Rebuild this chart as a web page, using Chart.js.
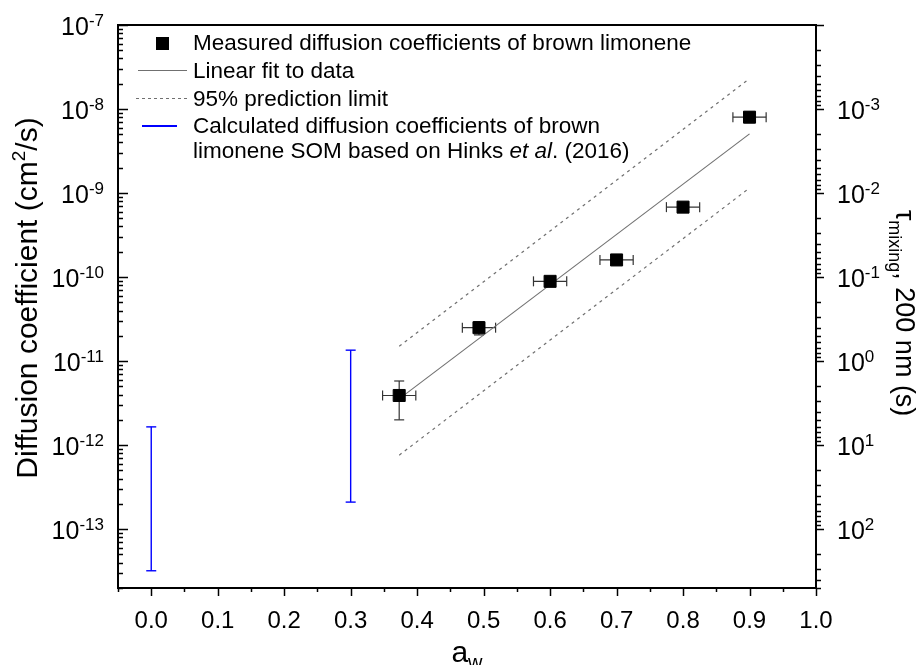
<!DOCTYPE html>
<html lang="en">
<head>
<meta charset="UTF-8">
<title>Diffusion coefficients of brown limonene SOM</title>
<script src="https://cdn.jsdelivr.net/npm/chart.js"></script>
<style>
  body { margin: 0; background: #fff; }
  #wrap { width: 920px; height: 665px; }
</style>
</head>
<body>
<div id="wrap"><canvas id="diffChart" width="920" height="665"></canvas></div>
<script>
// Measured diffusion coefficients (brown limonene)
const awMeasured = [0.373, 0.493, 0.60, 0.70, 0.80, 0.90];
const dMeasured = [3.9e-12, 2.5e-11, 8.9e-11, 1.6e-10, 6.8e-10, 8.0e-9];
const awErr = [0.025, 0.025, 0.025, 0.025, 0.025, 0.025];
const dLow = [2.0e-12, 2.05e-11, 8.2e-11, 1.5e-10, 6.4e-10, 6.9e-9];
const dHigh = [5.8e-12, 2.95e-11, 9.6e-11, 1.7e-10, 7.2e-10, 9.2e-9];

// Linear fit and 95% prediction limits (end points)
const fitAw = [0.373, 0.90];
const fitD = [3.55e-12, 5.06e-9];
const upperD = [1.5e-11, 2.3e-8];
const lowerD = [7.6e-13, 1.15e-9];

// Hinks et al. (2016) calculated ranges
const hinksAw = [0.0, 0.3];
const hinksLow = [3.2e-14, 2.1e-13];
const hinksHigh = [1.65e-12, 1.35e-11];

// Axis ticks
const xTickLabels = ['0.0', '0.1', '0.2', '0.3', '0.4', '0.5', '0.6', '0.7', '0.8', '0.9', '1.0'];
const dExponents = [-7, -8, -9, -10, -11, -12, -13];
const tauExponents = [-3, -2, -1, 0, 1, 2];

const FONT = "'Liberation Sans', Arial, sans-serif";
const dMin = Math.pow(10, -13.7), dMax = 1e-7;
// tau(200 nm) = 1e-11 / D
const tauMin = 1e-11 / dMax, tauMax = 1e-11 / dMin;

function pts(xs, ys) {
    return xs.map((x, i) => ({ x: x, y: ys[i] }));
}

function logTicks(min, max) {
    const out = [];
    for (let e = Math.floor(Math.log10(min)); e <= Math.ceil(Math.log10(max)); e++) {
        for (let m = 1; m <= 9; m++) {
            const v = m * Math.pow(10, e);
            if (v >= min * 0.999 && v <= max * 1.001) out.push({ v: v, major: m === 1 });
        }
    }
    return out;
}

function line(ctx, x1, y1, x2, y2) {
    ctx.beginPath();
    ctx.moveTo(x1, y1);
    ctx.lineTo(x2, y2);
    ctx.stroke();
}

// "10" with a superscript exponent
function powLabel(ctx, x, y, exp, align) {
    ctx.font = '25px ' + FONT;
    const w1 = ctx.measureText('10').width;
    ctx.font = '17px ' + FONT;
    const w2 = ctx.measureText(String(exp)).width;
    const x0 = align === 'right' ? x - w1 - w2 : x;
    ctx.textAlign = 'left';
    ctx.textBaseline = 'alphabetic';
    ctx.font = '25px ' + FONT;
    ctx.fillText('10', x0, y + 10);
    ctx.font = '17px ' + FONT;
    ctx.fillText(String(exp), x0 + w1, y + 1);
}

// draws runs of [text, font, dy] one after the other, centred on 0
function runs(ctx, parts) {
    let total = 0;
    parts.forEach(p => { ctx.font = p[1]; total += ctx.measureText(p[0]).width; });
    let x = -total / 2;
    ctx.textAlign = 'left';
    ctx.textBaseline = 'alphabetic';
    parts.forEach(p => {
        ctx.font = p[1];
        ctx.fillText(p[0], x, p[2]);
        x += ctx.measureText(p[0]).width;
    });
}

const errorBars = {
    id: 'errorBars',
    beforeDatasetsDraw(chart) {
        const ctx = chart.ctx, xs = chart.scales.x, ys = chart.scales.y;
        ctx.save();
        // measured: x and y error bars
        ctx.strokeStyle = '#333';
        ctx.lineWidth = 1.2;
        awMeasured.forEach((aw, i) => {
            const px = xs.getPixelForValue(aw), py = ys.getPixelForValue(dMeasured[i]);
            const xl = xs.getPixelForValue(aw - awErr[i]), xr = xs.getPixelForValue(aw + awErr[i]);
            const yl = ys.getPixelForValue(dLow[i]), yh = ys.getPixelForValue(dHigh[i]);
            line(ctx, xl, py, xr, py);
            line(ctx, xl, py - 5, xl, py + 5);
            line(ctx, xr, py - 5, xr, py + 5);
            line(ctx, px, yl, px, yh);
            line(ctx, px - 5, yl, px + 5, yl);
            line(ctx, px - 5, yh, px + 5, yh);
        });
        // Hinks ranges
        ctx.strokeStyle = 'rgb(0,0,255)';
        ctx.lineWidth = 1.4;
        hinksAw.forEach((aw, i) => {
            const px = xs.getPixelForValue(aw);
            const yl = ys.getPixelForValue(hinksLow[i]), yh = ys.getPixelForValue(hinksHigh[i]);
            line(ctx, px, yl, px, yh);
            line(ctx, px - 5, yl, px + 5, yl);
            line(ctx, px - 5, yh, px + 5, yh);
        });
        ctx.restore();
    }
};

const frameAndAxes = {
    id: 'frameAndAxes',
    afterDraw(chart) {
        const ctx = chart.ctx, a = chart.chartArea;
        const xs = chart.scales.x, ys = chart.scales.y, y2 = chart.scales.y2;
        ctx.save();
        ctx.fillStyle = '#000';
        ctx.strokeStyle = '#000';

        // tick marks
        ctx.lineWidth = 1.5;
        logTicks(dMin, dMax).forEach(t => {
            const py = Math.round(ys.getPixelForValue(t.v)) + 0.5;
            line(ctx, a.left, py, a.left + (t.major ? 10 : 5), py);
        });
        logTicks(tauMin, tauMax).forEach(t => {
            const py = Math.round(y2.getPixelForValue(t.v)) + 0.5;
            line(ctx, a.right, py, a.right + (t.major ? 8 : 5), py);
        });
        for (let k = -1; k <= 20; k++) {
            const px = Math.round(xs.getPixelForValue(k * 0.05)) + 0.5;
            line(ctx, px, a.bottom, px, a.bottom + (k % 2 === 0 ? 8 : 4));
        }

        // frame
        ctx.lineWidth = 2;
        ctx.strokeRect(a.left, a.top, a.right - a.left, a.bottom - a.top);

        // tick labels
        dExponents.forEach(e => powLabel(ctx, 104, ys.getPixelForValue(Math.pow(10, e)), e, 'right'));
        tauExponents.forEach(e => powLabel(ctx, 837, y2.getPixelForValue(Math.pow(10, e)), e, 'left'));
        ctx.font = '24px ' + FONT;
        ctx.textAlign = 'center';
        ctx.textBaseline = 'alphabetic';
        xTickLabels.forEach(l => ctx.fillText(l, xs.getPixelForValue(parseFloat(l)), 628));

        // axis titles
        ctx.save();
        ctx.translate(37, 298);
        ctx.rotate(-Math.PI / 2);
        runs(ctx, [['Diffusion coefficient (cm', '30px ' + FONT, 0], ['2', '19px ' + FONT, -12], ['/s)', '30px ' + FONT, 0]]);
        ctx.restore();

        ctx.save();
        ctx.translate(896, 313);
        ctx.rotate(Math.PI / 2);
        runs(ctx, [['\u03c4', '27px ' + FONT, 0], ['mixing', '18px ' + FONT, 7], [', 200 nm (s)', '27px ' + FONT, 0]]);
        ctx.restore();

        ctx.save();
        ctx.translate(467, 662);
        runs(ctx, [['a', '30px ' + FONT, 0], ['w', '20px ' + FONT, 7]]);
        ctx.restore();

        // legend
        ctx.fillRect(156, 37, 13, 13);
        ctx.lineWidth = 1;
        ctx.strokeStyle = '#707070';
        line(ctx, 138, 70.5, 187, 70.5);
        ctx.setLineDash([3, 3]);
        line(ctx, 136, 98.5, 187, 98.5);
        ctx.setLineDash([]);
        ctx.strokeStyle = 'rgb(0,0,255)';
        ctx.lineWidth = 2;
        line(ctx, 142, 126, 177, 126);

        const lf = '22.5px ' + FONT;
        ctx.font = lf;
        ctx.textAlign = 'left';
        ctx.fillStyle = '#000';
        ctx.fillText('Measured diffusion coefficients of brown limonene', 193, 50);
        ctx.fillText('Linear fit to data', 193, 78);
        ctx.fillText('95% prediction limit', 193, 106);
        ctx.fillText('Calculated diffusion coefficients of brown', 193, 133);
        let x = 193;
        [['limonene SOM based on Hinks ', lf], ['et al', 'italic ' + lf], ['. (2016)', lf]].forEach(p => {
            ctx.font = p[1];
            ctx.fillText(p[0], x, 158);
            x += ctx.measureText(p[0]).width;
        });
        ctx.restore();
    }
};

const ctx = document.getElementById('diffChart').getContext('2d');
new Chart(ctx, {
    type: 'scatter',
    data: {
        datasets: [
            {
                label: 'Measured diffusion coefficients of brown limonene',
                data: pts(awMeasured, dMeasured),
                pointStyle: 'rect',
                pointRadius: 8.5,
                backgroundColor: '#000',
                borderColor: '#000',
                borderWidth: 1,
                showLine: false
            },
            {
                label: 'Linear fit to data',
                data: pts(fitAw, fitD),
                showLine: true,
                borderColor: '#707070',
                borderWidth: 1.1,
                pointRadius: 0
            },
            {
                label: '95% prediction limit',
                data: pts(fitAw, upperD),
                showLine: true,
                borderColor: '#707070',
                borderWidth: 1.2,
                borderDash: [3, 4],
                pointRadius: 0
            },
            {
                label: '95% prediction limit (lower)',
                data: pts(fitAw, lowerD),
                showLine: true,
                borderColor: '#707070',
                borderWidth: 1.2,
                borderDash: [3, 4],
                pointRadius: 0
            }
        ]
    },
    options: {
        responsive: false,
        animation: false,
        devicePixelRatio: 1,
        layout: { padding: { left: 118, top: 25, right: 104, bottom: 77 } },
        plugins: {
            legend: { display: false },
            tooltip: { enabled: false }
        },
        scales: {
            x: { type: 'linear', min: -0.05, max: 1.0, display: false },
            y: { type: 'logarithmic', min: dMin, max: dMax, display: false },
            y2: { type: 'logarithmic', min: tauMin, max: tauMax, reverse: true, position: 'right', display: false }
        }
    },
    plugins: [errorBars, frameAndAxes]
});
</script>
</body>
</html>
